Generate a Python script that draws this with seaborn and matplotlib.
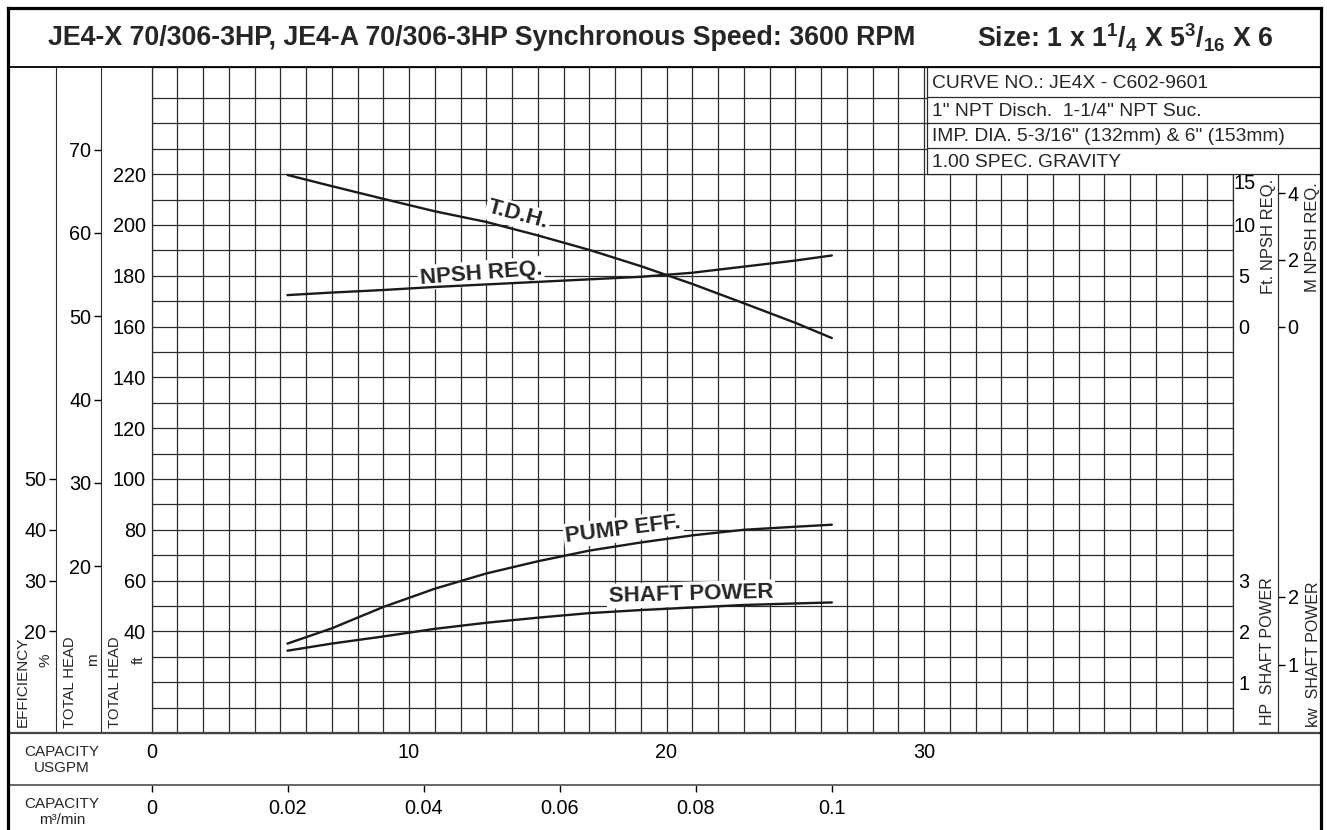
import matplotlib
matplotlib.use("Agg")
import numpy as np
import pandas as pd
import seaborn as sns
from matplotlib import pyplot as plt
from matplotlib.ticker import FixedLocator
from matplotlib.lines import Line2D
from matplotlib.patches import Rectangle

# capacity along the curves, USGPM (0.02 .. 0.1 m3/min)
flow_gpm = [5.28, 7, 9, 11, 13, 15, 17, 19, 21, 23, 25, 26.42]
tdh_ft = [219.7, 215.3, 210.3, 205.4, 201.2, 195.9, 190.2, 183.8, 176.8, 169.2, 161.5, 155.5]
npsh_ft = [3.1, 3.35, 3.6, 3.9, 4.15, 4.4, 4.65, 4.9, 5.3, 5.9, 6.5, 7.0]
eff_pct = [17.6, 20.6, 24.8, 28.4, 31.4, 33.8, 35.9, 37.5, 38.9, 40.0, 40.6, 41.0]
shaft_hp = [1.62, 1.76, 1.90, 2.05, 2.17, 2.27, 2.36, 2.42, 2.47, 2.52, 2.55, 2.57]

gpm_ticks = [0, 10, 20, 30]
m3_ticks = [0, 0.02, 0.04, 0.06, 0.08, 0.1]
m3_labels = ["0", "0.02", "0.04", "0.06", "0.08", "0.1"]
ft_ticks = [40, 60, 80, 100, 120, 140, 160, 180, 200, 220]
m_ticks = [20, 30, 40, 50, 60, 70]
eff_ticks = [20, 30, 40, 50]
npsh_ft_ticks = [0, 5, 10, 15]
npsh_m_ticks = [0, 2, 4]
hp_ticks = [1, 2, 3]
kw_ticks = [1, 2]

info_lines = ["CURVE NO.: JE4X - C602-9601",
              "1\" NPT Disch.  1-1/4\" NPT Suc.",
              "IMP. DIA. 5-3/16\" (132mm) & 6\" (153mm)",
              "1.00 SPEC. GRAVITY"]

FT_PER_M = 3.2808
KW_PER_HP = 0.7457
M3_PER_GPM = 0.0037854
GPM_MAX = 42
FT_TOP = 262.2

sns.set_style("white")
plt.rcParams["font.family"] = ["Liberation Sans", "DejaVu Sans"]
plt.rcParams["mathtext.fontset"] = "custom"
plt.rcParams["mathtext.rm"] = "Liberation Sans:bold"
plt.rcParams["mathtext.it"] = "Liberation Sans:bold"
plt.rcParams["mathtext.bf"] = "Liberation Sans:bold"

W, H = 1327, 830
fig = plt.figure(figsize=(W / 100, H / 100), dpi=100)


def fx(px):
    return px / W


def fy(py):
    return 1 - py / H


GL, GR, GT, GB = 151.5, 1233, 67, 733
TICK_FS = 14.3
ax = fig.add_axes([fx(GL), fy(GB), (GR - GL) / W, (GB - GT) / H])
ink = "#1a1a1a"
df = pd.DataFrame({"gpm": flow_gpm, "tdh": tdh_ft, "npsh": npsh_ft,
                   "eff": eff_pct, "hp": shaft_hp})

# main grid: total head ft vs USGPM
ax.set_xlim(0, GPM_MAX)
ax.set_ylim(0, FT_TOP)
ax.set_xticks(gpm_ticks)
ax.set_yticks(ft_ticks)
ax.xaxis.set_minor_locator(FixedLocator(range(0, GPM_MAX + 1)))
ax.yaxis.set_minor_locator(FixedLocator(range(0, 251, 10)))
ax.grid(True, which="both", color="#2b2b2b", lw=0.9)
ax.set_axisbelow(True)
ax.tick_params(which="both", length=0, labelsize=TICK_FS, colors="black")
ax.tick_params(axis="y", pad=4)
ax.tick_params(axis="x", pad=7)
for s in ax.spines.values():
    s.set_color("#2b2b2b")
    s.set_linewidth(0.9)
sns.lineplot(data=df, x="gpm", y="tdh", ax=ax, color=ink, lw=1.7)
ax.set_xlabel("")
ax.set_ylabel("")

lab_kw = dict(fontsize=16, fontweight="bold", ha="center", va="center",
              rotation_mode="anchor", zorder=1.5,
              bbox=dict(fc="white", ec="none", pad=1.5))
ax.text(14.23, 203.9, "T.D.H.", rotation=-15, **lab_kw)
ax.text(12.79, 181.0, "NPSH REQ.", rotation=4.5, **lab_kw)
ax.text(18.32, 80.2, "PUMP EFF.", rotation=7, **lab_kw)
ax.text(20.95, 54.7, "SHAFT POWER", rotation=1.5, **lab_kw)

# m3/min scale
sec = ax.secondary_xaxis((GB - 785) / (GB - GT),
                         functions=(lambda g: g * M3_PER_GPM, lambda m: m / M3_PER_GPM))
sec.set_xticks(m3_ticks, labels=m3_labels)
sec.tick_params(bottom=True, direction="out", length=5, width=1, pad=5,
                labelsize=TICK_FS, colors="black")
sec.spines["bottom"].set_visible(False)


def twin(ylim):
    t = ax.twinx()
    t.set_ylim(*ylim)
    for s in t.spines.values():
        s.set_visible(False)
    return t


def left_scale(t, xpx, ticks):
    t.yaxis.set_ticks_position("left")
    t.spines["left"].set_visible(True)
    t.spines["left"].set_position(("axes", (xpx - GL) / (GR - GL)))
    t.spines["left"].set_color("#2b2b2b")
    t.set_yticks(ticks)
    t.tick_params(axis="y", left=True, right=False, labelleft=True, labelright=False,
                  direction="out", length=5, width=1, pad=2, labelsize=TICK_FS,
                  colors="black")


def right_scale(t, xpx, ticks, marks):
    t.set_yticks(ticks)
    if marks:
        t.spines["right"].set_visible(True)
        t.spines["right"].set_position(("axes", (xpx - GL) / (GR - GL)))
        t.spines["right"].set_color("#2b2b2b")
        t.tick_params(axis="y", right=True, direction="out", length=5, width=1,
                      pad=2, labelsize=TICK_FS, colors="black")
    else:
        t.tick_params(axis="y", right=True, length=0, pad=8, labelsize=TICK_FS,
                      colors="black")
        plt.setp(t.get_yticklabels(), ha="center")


ax_eff = twin((0, FT_TOP / 2))
left_scale(ax_eff, 56, eff_ticks)
sns.lineplot(data=df, x="gpm", y="eff", ax=ax_eff, color=ink, lw=1.7)

ax_m = twin((0, FT_TOP / FT_PER_M))
left_scale(ax_m, 101, m_ticks)

npsh_lim = ((0 - 160) / 4, (FT_TOP - 160) / 4)
ax_npsh = twin(npsh_lim)
right_scale(ax_npsh, GR, npsh_ft_ticks, False)
for t in ax_npsh.get_yticklabels():
    if t.get_text() == "15":
        t.set_va("top")
sns.lineplot(data=df, x="gpm", y="npsh", ax=ax_npsh, color=ink, lw=1.7)

ax_npshm = twin((npsh_lim[0] / FT_PER_M, npsh_lim[1] / FT_PER_M))
right_scale(ax_npshm, 1278, npsh_m_ticks, True)

ax_hp = twin((0, FT_TOP / 20))
right_scale(ax_hp, GR, hp_ticks, False)
sns.lineplot(data=df, x="gpm", y="hp", ax=ax_hp, color=ink, lw=1.7)

ax_kw = twin((0, FT_TOP / 20 * KW_PER_HP))
right_scale(ax_kw, 1278, kw_ticks, True)

for t in [ax_eff, ax_m, ax_npsh, ax_npshm, ax_hp, ax_kw]:
    t.set_xlabel("")
    t.set_ylabel("")

# info box over the top right corner of the grid
fig.add_artist(Rectangle((fx(926.7), fy(174)), fx(1321) - fx(926.7), fy(67) - fy(174),
                         transform=fig.transFigure, fc="white", ec="#2b2b2b",
                         lw=0.9, zorder=10))
rows = [67, 97.5, 123, 148.5, 174]
for i, txt in enumerate(info_lines):
    if i > 0:
        fig.add_artist(Line2D([fx(926.7), fx(1321)], [fy(rows[i])] * 2,
                              color="#2b2b2b", lw=0.9, zorder=11))
    fig.text(fx(932), fy((rows[i] + rows[i + 1]) / 2 + 1), txt, fontsize=13.9,
             ha="left", va="center", zorder=12)

# frame and band lines
frame = dict(color="black", lw=2.3, zorder=13, solid_capstyle="projecting")
fig.add_artist(Line2D([fx(8), fx(8)], [fy(8), fy(832)], **frame))
fig.add_artist(Line2D([fx(1321), fx(1321)], [fy(8), fy(832)], **frame))
fig.add_artist(Line2D([fx(8), fx(1321)], [fy(8), fy(8)], **frame))
fig.add_artist(Line2D([fx(8), fx(1321)], [fy(67), fy(67)], color="black", lw=1.3, zorder=12))
fig.add_artist(Line2D([fx(8), fx(1321)], [fy(733), fy(733)], color="#444", lw=1.6, zorder=12))
fig.add_artist(Line2D([fx(8), fx(1321)], [fy(785), fy(785)], color="#666", lw=1.4, zorder=12))

# titles
fig.text(fx(48), fy(38), "JE4-X 70/306-3HP, JE4-A 70/306-3HP Synchronous Speed: 3600 RPM",
         fontsize=19.3, fontweight="bold", ha="left", va="center")
fig.text(fx(977), fy(38), "Size: 1 x 1$^{1}$/$_{4}$ X 5$^{3}$/$_{16}$ X 6",
         fontsize=19.3, fontweight="bold", ha="left", va="center")

# axis captions
side = dict(rotation=90, ha="center")
fig.text(fx(22.5), fy(727), "EFFICIENCY", va="bottom", fontsize=11, **side)
fig.text(fx(45), fy(660), "%", va="center", fontsize=11, **side)
fig.text(fx(70), fy(728), "TOTAL HEAD", va="bottom", fontsize=10.7, **side)
fig.text(fx(93), fy(660), "m", va="center", fontsize=11, **side)
fig.text(fx(115), fy(728), "TOTAL HEAD", va="bottom", fontsize=10.7, **side)
fig.text(fx(139), fy(660), "ft", va="center", fontsize=11, **side)
fig.text(fx(1268), fy(179), "Ft. NPSH REQ.", va="top", fontsize=12, **side)
fig.text(fx(1313), fy(182), "M NPSH REQ.", va="top", fontsize=12, **side)
fig.text(fx(1268), fy(725), "HP  SHAFT POWER", va="bottom", fontsize=11.5, **side)
fig.text(fx(1313), fy(727), "kw  SHAFT POWER", va="bottom", fontsize=11.5, **side)

fig.text(fx(62), fy(760), "CAPACITY\nUSGPM", fontsize=11, ha="center", va="center",
         linespacing=1.15)
fig.text(fx(62), fy(812), "CAPACITY\nm\u00b3/min", fontsize=11, ha="center", va="center",
         linespacing=1.15)

fig.savefig("out.png", dpi=100)
